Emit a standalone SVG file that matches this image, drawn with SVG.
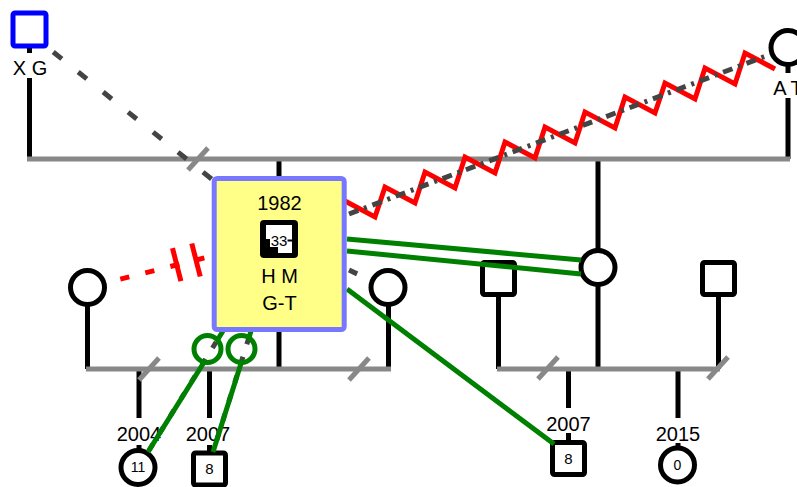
<svg xmlns="http://www.w3.org/2000/svg" width="797" height="487" viewBox="0 0 797 487">
<style>
text{font-family:"Liberation Sans",Arial,sans-serif;fill:#000;text-anchor:middle}
.lbl{font-size:20px}
.num{font-size:15px}
.gl{stroke:#888;stroke-width:5;fill:none}
.bl{stroke:#000;stroke-width:5;fill:none}
.sym{fill:#fff;stroke:#000;stroke-width:5}
.dash{stroke:#444;stroke-width:5;fill:none}
.green{stroke:#008000;stroke-width:5;fill:none}
.red{stroke:#f00;stroke-width:5;fill:none}
</style>
<rect width="797" height="487" fill="#fff"/>
<g id="family-lines">
  <line class="bl" x1="29.5" y1="46" x2="29.5" y2="53"/>
  <line class="bl" x1="29.5" y1="78" x2="29.5" y2="159"/>
  <line class="bl" x1="788" y1="64" x2="788" y2="73"/>
  <line class="bl" x1="788" y1="98" x2="788" y2="159"/>
  <line class="bl" x1="279" y1="159" x2="279" y2="180"/>
  <line class="bl" x1="598" y1="159" x2="598" y2="252"/>
  <line class="gl" x1="27" y1="159" x2="790" y2="159"/>
  <line class="gl" x1="188" y1="170" x2="208" y2="148"/>
  <line class="bl" x1="87.5" y1="304" x2="87.5" y2="369"/>
  <line class="bl" x1="388.5" y1="304" x2="388.5" y2="369"/>
  <line class="bl" x1="279" y1="328" x2="279" y2="369"/>
  <line class="bl" x1="139" y1="369" x2="139" y2="418"/>
  <line class="bl" x1="209.5" y1="369" x2="209.5" y2="418"/>
  <line class="bl" x1="139" y1="445" x2="139" y2="451"/>
  <line class="bl" x1="209.5" y1="445" x2="209.5" y2="454"/>
  <line class="gl" x1="86" y1="369" x2="391" y2="369"/>
  <line class="gl" x1="139" y1="380" x2="159" y2="358"/>
  <line class="gl" x1="349" y1="380" x2="369" y2="358"/>
  <line class="bl" x1="498.5" y1="294" x2="498.5" y2="369"/>
  <line class="bl" x1="598" y1="283" x2="598" y2="369"/>
  <line class="bl" x1="718.5" y1="294" x2="718.5" y2="369"/>
  <line class="bl" x1="568.5" y1="369" x2="568.5" y2="408"/>
  <line class="bl" x1="678" y1="369" x2="678" y2="418"/>
  <line class="bl" x1="568.5" y1="433" x2="568.5" y2="443"/>
  <line class="bl" x1="678" y1="443" x2="678" y2="449"/>
  <line class="gl" x1="497" y1="369" x2="720" y2="369"/>
  <line class="gl" x1="538" y1="379" x2="558" y2="357"/>
  <line class="gl" x1="708" y1="379" x2="728" y2="357"/>
  <text class="lbl" x="139" y="441">2004</text>
  <text class="lbl" x="208" y="441">2007</text>
  <text class="lbl" x="568.5" y="431">2007</text>
  <text class="lbl" x="678" y="441">2015</text>
</g>
<g id="XG">
  <rect x="13" y="13" width="33" height="33" rx="2" fill="#fff" stroke="#00f" stroke-width="5"/>
  <text class="lbl" x="30" y="75">X G</text>
</g>
<g id="AT">
  <circle class="sym" cx="788" cy="47.5" r="17"/>
  <text class="lbl" x="788" y="95">A T</text>
</g>
<g id="wife-left"><circle class="sym" cx="87.5" cy="287.5" r="17"/></g>
<g id="wife-right"><circle class="sym" cx="388" cy="287.5" r="17"/></g>
<g id="husband-sister"><rect class="sym" x="482.5" y="262.5" width="32" height="32" rx="2"/></g>
<g id="sister"><circle class="sym" cx="598" cy="267.5" r="17"/></g>
<g id="husband2-sister"><rect class="sym" x="702.5" y="262.5" width="32" height="32" rx="2"/></g>
<g id="child-2004"><circle class="sym" cx="138" cy="467.5" r="17"/><text x="138" y="472" style="font-size:14px">11</text></g>
<g id="child-2007a"><rect class="sym" x="193.5" y="453" width="32" height="32" rx="2"/><text class="num" x="209.5" y="474">8</text></g>
<g id="child-2007b"><rect class="sym" x="552.5" y="442.5" width="32" height="32" rx="2"/><text class="num" x="568.5" y="464">8</text></g>
<g id="child-2015"><circle class="sym" cx="677.5" cy="465" r="17"/><text x="677.5" y="470" style="font-size:14px">0</text></g>
<g id="connectors">
  <line class="dash" x1="47" y1="47" x2="214" y2="181" stroke-dasharray="11 21" stroke-dashoffset="24"/>
  <polyline class="red" stroke-linejoin="miter" points="345,201 375,217 385,187 415,203 425,172 455,188 465,157 495,173 505,142 535,158 545,127 575,143 585,112 615,128 625,97 655,113 665,83 695,99 705,68 735,84 745,53 775,69"/>
  <line class="dash" x1="349" y1="214" x2="770" y2="54.5" stroke-dasharray="10 6 3 6"/>
  <line class="red" x1="120.3" y1="279.2" x2="212" y2="256" stroke-dasharray="9.3 16.5"/>
  <line class="red" stroke-width="6" x1="172.5" y1="248.2" x2="180.9" y2="281.2"/>
  <line class="red" stroke-width="6" x1="191.8" y1="243.5" x2="200.2" y2="276.5"/>
  <line class="dash" x1="349" y1="270" x2="370" y2="280" stroke-dasharray="9 30"/>
  <line class="dash" x1="223" y1="331" x2="148" y2="452" stroke-dasharray="7 13" stroke-dashoffset="7"/>
  <line class="dash" x1="251" y1="331" x2="213" y2="452" stroke-dasharray="7 13" stroke-dashoffset="13"/>
  <path class="green" d="M223,331 L218,339 M203.5,363 L148,452"/>
  <circle class="green" cx="207.5" cy="349" r="13.5"/>
  <path class="green" d="M251,331 L249,337.5 M241.3,362.5 L213,452"/>
  <circle class="green" cx="241.5" cy="349" r="13.5"/>
  <line class="green" x1="347" y1="239" x2="581" y2="260"/>
  <line class="green" x1="347" y1="251" x2="581" y2="274"/>
  <line class="green" x1="347" y1="289" x2="554" y2="444"/>
</g>
<g id="HM">
  <rect x="214.2" y="178.5" width="130" height="151" rx="3" fill="#ffff88" stroke="#7777ff" stroke-width="5"/>
  <text class="lbl" x="279.5" y="210">1982</text>
  <rect x="260" y="220" width="38" height="38" rx="4" fill="#000"/>
  <rect x="266" y="225" width="26" height="28" fill="#fff"/>
  <rect x="266" y="239" width="12" height="14" fill="#000"/>
  <rect x="270" y="234" width="18" height="13" fill="#fff"/>
  <rect x="287.5" y="239.5" width="4.5" height="2" fill="#000"/>
  <text class="num" x="279" y="246">33</text>
  <text class="lbl" x="279.5" y="283">H M</text>
  <text class="lbl" x="279.5" y="310">G-T</text>
</g>
</svg>
